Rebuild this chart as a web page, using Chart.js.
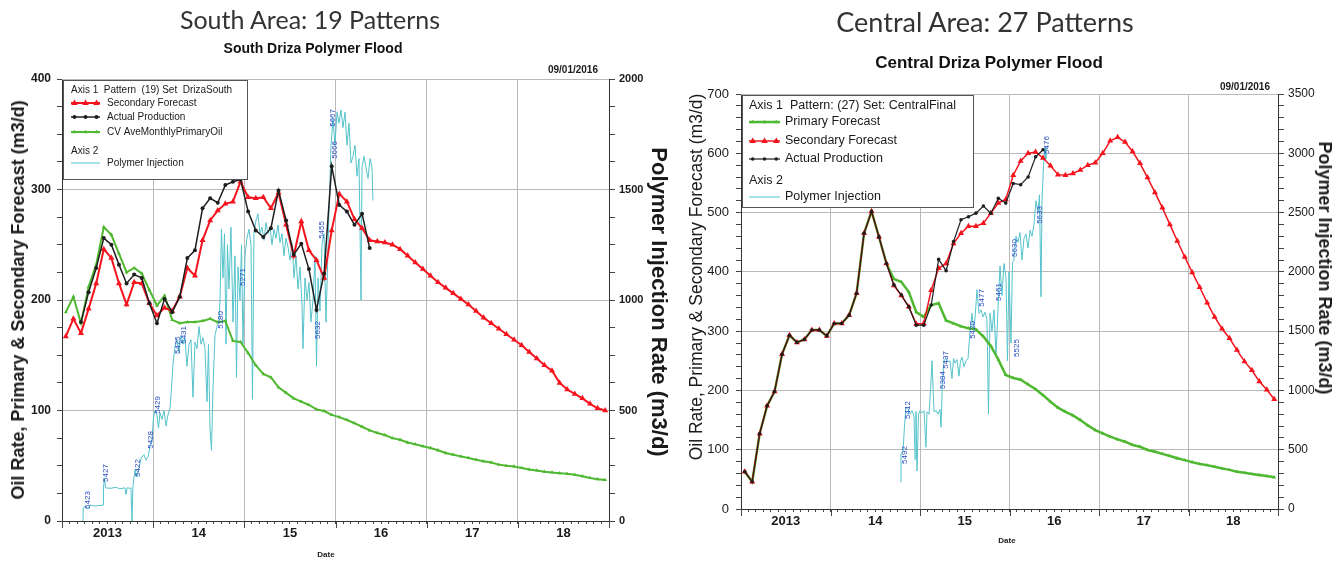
<!DOCTYPE html>
<html>
<head>
<meta charset="utf-8">
<script src="https://cdn.jsdelivr.net/npm/chart.js@4"></script>
<style>
    body { margin: 0; background: #ffffff; }
    #page { position: relative; width: 1342px; height: 561px; overflow: hidden; font-family: "Liberation Sans", Arial, sans-serif; color: #1a1a1a; }
    canvas { position: absolute; top: 0; }
    #south_chart { left: 0; }
    #central_chart { left: 670px; }
    .txt { position: absolute; white-space: nowrap; transform: translate(-50%, -50%); line-height: 1; }
    .slide_title { font-family: Lato, "Open Sans", sans-serif; font-size: 25px; color: #333333; }
    .chart_title { font-weight: bold; color: #111111; }
    .stamp { font-weight: bold; font-size: 10px; transform: translate(-100%, -50%); }
    .rot_left { transform: translate(-50%, -50%) rotate(-90deg); }
    .rot_right { transform: translate(-50%, -50%) rotate(90deg); }
    .date_lbl { font-weight: bold; font-size: 8px; }
</style>
</head>
<body>
<div id="page">
    <canvas id="south_chart" width="670" height="561"></canvas>
    <canvas id="central_chart" width="672" height="561"></canvas>

    <div class="txt slide_title" style="left:310px; top:19px;">South Area: 19 Patterns</div>
    <div class="txt chart_title" style="left:313px; top:48px; font-size:14px;">South Driza Polymer Flood</div>
    <div class="txt stamp" style="left:598px; top:70px;">09/01/2016</div>
    <div class="txt rot_left" style="left:18px; top:300px; font-size:18px; font-weight:bold;">Oil Rate, Primary &amp; Secondary Forecast (m3/d)</div>
    <div class="txt rot_right" style="left:659px; top:302px; font-size:22px; font-weight:bold;">Polymer Injection Rate (m3/d)</div>
    <div class="txt date_lbl" style="left:326px; top:555px;">Date</div>

    <div class="txt slide_title" style="left:985px; top:21px; font-size:27px;">Central Area: 27 Patterns</div>
    <div class="txt chart_title" style="left:989px; top:62px; font-size:17px;">Central Driza Polymer Flood</div>
    <div class="txt stamp" style="left:1270px; top:87px;">09/01/2016</div>
    <div class="txt rot_left" style="left:697px; top:277px; font-size:17.5px;">Oil Rate, Primary &amp; Secondary Forecast (m3/d)</div>
    <div class="txt rot_right" style="left:1325px; top:268px; font-size:18px; font-weight:bold;">Polymer Injection Rate (m3/d)</div>
    <div class="txt date_lbl" style="left:1007px; top:541px;">Date</div>
</div>

<script>
// dates are counted in months from Jan 2013, monthly points sit mid-month
const startYear = 2013;
const yearLabels = ['2013', '14', '15', '16', '17', '18'];

// South area, oil rate (m3/d)
const southSecondary = [167, 183, 170, 192, 215, 246, 238, 215, 196, 216,
    215, 197, 186, 193, 190, 203, 229, 222, 254, 272,
    281, 287, 289, 307, 293, 292, 293, 283, 297, 268,
    240, 271, 245, 236, 220, 263, 296, 289, 273, 265,
    254, 253, 252, 250, 246, 240, 234, 228, 222, 216,
    211, 206, 201, 196, 190, 184, 179, 174, 169, 164,
    159, 153, 147, 141, 136, 125, 119, 115, 111, 106,
    102, 100];
const southActual = [null, null, 180, 207, 229, 256, 250, 232, 215, 223,
    220, 197, 179, 201, 189, 203, 238, 245, 283, 292,
    288, 304, 307, 309, 280, 263, 257, 265, 299, 272,
    241, 251, 228, 191, 224, 321, 286, 280, 268, 278,
    247];
const southPrimary = [189, 203, 179, 212, 232, 266, 259, 242, 225, 229,
    224, 209, 195, 204, 182, 179, 180, 180, 181, 183,
    180, 181, 163, 162, 152, 141, 133, 130, 121, 116,
    111, 108, 105, 101, 99.5, 96, 94, 91.4, 88.5, 85.3,
    82, 79.7, 77.8, 75, 73.5, 71, 69.5, 67.7, 66, 64,
    61.5, 60, 58.5, 57, 55.5, 54, 53, 51, 50, 49.3,
    48, 46.6, 45.7, 44.6, 43.9, 43.3, 42.7, 41.8, 40.5, 38.9,
    37.8, 37.1];

// South area, polymer injection (m3/d)
const southInjMonth = [2.76, 2.80, 3.03, 3.42, 3.69, 4.34, 5.00, 5.40, 5.46, 5.59,
    5.73, 6.32, 7.11, 7.63, 8.29, 8.42, 8.56, 9.08, 9.21, 9.34,
    9.61, 9.87, 10.13, 10.40, 10.79, 11.06, 11.32, 11.58, 11.85, 12.04,
    12.24, 12.50, 12.70, 12.90, 13.16, 13.43, 13.69, 13.95, 14.22, 14.41,
    14.61, 14.87, 15.14, 15.40, 15.66, 15.93, 16.19, 16.45, 16.72, 16.98,
    17.24, 17.51, 17.77, 18.03, 18.30, 18.56, 18.82, 19.09, 19.28, 19.48,
    19.68, 19.87, 20.14, 20.40, 20.66, 20.80, 20.99, 21.19, 21.39, 21.59,
    21.78, 21.98, 22.24, 22.51, 22.77, 22.97, 23.17, 23.43, 23.63, 23.82,
    24.09, 24.35, 24.61, 24.88, 25.07, 25.27, 25.53, 25.80, 26.06, 26.32,
    26.59, 26.85, 27.11, 27.38, 27.64, 27.90, 28.17, 28.43, 28.69, 28.96,
    29.22, 29.48, 29.75, 30.01, 30.27, 30.54, 30.80, 31.06, 31.33, 31.59,
    31.72, 31.98, 32.25, 32.51, 32.77, 33.04, 33.30, 33.50, 33.70, 33.96,
    34.22, 34.49, 34.75, 34.95, 35.14, 35.41, 35.67, 35.93, 36.20, 36.46,
    36.72, 36.99, 37.25, 37.51, 37.78, 38.04, 38.30, 38.57, 38.83, 39.09,
    39.36, 39.49, 39.75, 40.01, 40.28, 40.54, 40.80, 40.93];
const southInjRate = [0, 60, 68, 55, 72, 68, 70, 72, 150, 195,
    150, 148, 152, 146, 150, 120, 150, 148, 0, 160,
    230, 200, 240, 285, 300, 275, 290, 340, 370, 470,
    500, 480, 420, 490, 460, 500, 430, 480, 510, 600,
    710, 790, 820, 760, 840, 800, 830, 700, 800, 820,
    560, 810, 780, 880, 800, 830, 780, 540, 800, 420,
    320, 600, 840, 880, 900, 1000, 1320, 1100, 1300, 800,
    1250, 1050, 1330, 900, 1200, 650, 1150, 1000, 1250, 800,
    1200, 1280, 1320, 1250, 550, 1300, 1360, 1390, 1300, 1330,
    1270, 1350, 1300, 1330, 1250, 1320, 1280, 1340, 1260, 1300,
    1200, 1280, 1240, 1180, 1260, 1100, 1200, 1050, 1150, 980,
    780, 1100, 1000, 1080, 900, 1000, 1200, 700, 1100, 950,
    1250, 1300, 900, 1150, 1400, 1700, 1820, 1700, 1850, 1800,
    1860, 1780, 1850, 1700, 1800, 1620, 1650, 1700, 1560, 1640,
    1000, 1600, 1650, 1600, 1550, 1640, 1600, 1450];

// pattern numbers written along the South injection curve
const southPatternId = ['5423', '5427', '5422', '5428', '5429', '5425', '5431', '5180', '5271', '5632', '5455', '5667', '5666'];
const southPatternMonth = [3.42, 5.79, 10.0, 11.71, 12.64, 15.27, 16.06, 20.93, 23.82, 33.7, 34.22, 35.67, 35.93];
const southPatternRate = [95, 217, 240, 367, 525, 796, 842, 910, 1104, 864, 1317, 1824, 1679];

// Central area, oil rate (m3/d)
const centralPrimary = [63, 46, 127, 174, 198, 261, 293, 281, 286, 302,
    302, 292, 313, 313, 327, 364, 465, 502, 459, 414,
    388, 383, 366, 332, 324, 344, 347, 318, 313, 308,
    305, 303, 291, 275, 252, 226, 221, 218, 210, 202,
    192, 181, 171, 164, 158, 150, 141, 133, 127.5, 122,
    117.5, 113.5, 108, 105, 99.5, 96.5, 93, 89.5, 85.5, 82.5,
    79, 76, 74, 71.3, 68.5, 66, 63, 61, 59, 57.3,
    55.5, 53.5];
const centralSecondary = [63, 46, 127, 174, 198, 261, 293, 281, 286, 302,
    302, 292, 313, 313, 327, 364, 465, 502, 459, 414,
    377, 360, 341, 312, 313, 369, 406, 414, 448, 465,
    477, 477, 482, 499, 516, 522, 563, 587, 600, 602,
    592, 579, 564, 563, 566, 572, 580, 584, 600, 621,
    627, 619, 603, 583, 559, 534, 508, 480, 452, 425,
    399, 374, 348, 324, 304, 288, 268, 249, 234, 215,
    201, 185];
const centralActual = [63, 46, 127, 174, 198, 261, 293, 281, 286, 302,
    302, 292, 313, 313, 327, 364, 465, 502, 459, 414,
    378, 361, 341, 310, 310, 344, 421, 402, 451, 488,
    493, 499, 511, 499, 524, 516, 549, 547, 560, 594,
    606];

// Central area, polymer injection (m3/d)
const centralInjMonth = [21.32, 21.45, 21.72, 21.92, 22.12, 22.39, 22.66, 22.93, 23.20, 23.33,
    23.46, 23.60, 23.80, 24.00, 24.27, 24.54, 24.80, 24.94, 25.21, 25.41,
    25.61, 25.88, 26.15, 26.41, 26.68, 26.82, 27.02, 27.22, 27.49, 27.75,
    28.02, 28.29, 28.49, 28.69, 28.96, 29.23, 29.43, 29.63, 29.90, 30.17,
    30.44, 30.70, 30.97, 31.17, 31.37, 31.64, 31.91, 32.18, 32.45, 32.72,
    32.98, 33.18, 33.39, 33.65, 33.92, 34.19, 34.46, 34.73, 34.99, 35.26,
    35.53, 35.73, 35.93, 36.20, 36.40, 36.60, 36.87, 37.14, 37.41, 37.68,
    37.94, 38.21, 38.48, 38.75, 39.02, 39.28, 39.55, 39.82, 40.02, 40.22,
    40.36, 40.56, 40.76, 40.89];
const centralInjRate = [230, 470, 480, 700, 860, 850, 800, 830, 780, 420,
    820, 320, 800, 830, 810, 830, 520, 820, 800, 1000,
    1250, 820, 830, 800, 840, 690, 1100, 1250, 1270, 1240,
    1250, 1100, 1270, 1230, 1260, 1120, 1250, 1280, 1200, 1250,
    1270, 1500, 1650, 1520, 1600, 1850, 1650, 1680, 1620, 1660,
    1600, 800, 1650, 1500, 1680, 1300, 1690, 2050, 1800, 2070,
    1950, 1250, 2000, 1400, 2080, 2100, 2300, 2250, 2330, 2100,
    2280, 2320, 2200, 2350, 2300, 2400, 2600, 2500, 2650, 1790,
    2600, 2900, 3050, 2950];

const centralPatternId = ['5492', '5412', '5384', '5437', '5420', '5477', '5461', '5630', '5525', '5633', '5476'];
const centralPatternMonth = [21.99, 22.39, 27.08, 27.49, 31.11, 32.31, 34.59, 36.74, 37.0, 40.09, 41.03];
const centralPatternRate = [455, 835, 1088, 1257, 1510, 1780, 1830, 2201, 1358, 2480, 3070];

Chart.defaults.font.family = '"Liberation Sans", Arial, sans-serif';
Chart.defaults.color = '#1a1a1a';

const gridColor = '#b9b9b9';
const noLine = 'rgba(0,0,0,0)';

const monthToYear = m => startYear + m / 12;
const monthly = values => values.map((v, i) => ({ x: monthToYear(i + 0.5), y: v }));
const paired = (months, rates) => months.map((m, i) => ({ x: monthToYear(m), y: rates[i] }));
const steps = (max, step) => {
    const out = [];
    for (let v = 0; v <= max + 0.001; v += step) out.push({ value: v });
    return out;
};

//plot frame and the longer year ticks on the date axis
const frameLines = {
    id: 'frameLines',
    beforeDatasetsDraw(chart) {
        const c = chart.ctx;
        const area = chart.chartArea;
        const xs = chart.scales.x;
        c.save();
        c.strokeStyle = gridColor;
        c.lineWidth = 1;
        c.beginPath();
        c.moveTo(area.left, area.top + 0.5);
        c.lineTo(area.right, area.top + 0.5);
        c.stroke();
        c.strokeStyle = '#444';
        for (let yr = startYear; yr <= startYear + 6; yr++) {
            const px = Math.round(xs.getPixelForValue(yr)) + 0.5;
            c.beginPath();
            c.moveTo(px, area.bottom);
            c.lineTo(px, area.bottom + 7);
            c.stroke();
        }
        c.restore();
    }
};

//blue pattern numbers standing along the injection curve
const patternIds = {
    id: 'patternIds',
    afterDatasetsDraw(chart, args, opts) {
        const c = chart.ctx;
        const xs = chart.scales.x;
        const ys = chart.scales.y2;
        c.save();
        c.font = '8px "Liberation Sans", Arial, sans-serif';
        c.fillStyle = '#2a4cc4';
        c.textAlign = 'center';
        c.textBaseline = 'middle';
        opts.ids.forEach((id, i) => {
            c.save();
            c.translate(xs.getPixelForValue(monthToYear(opts.months[i])), ys.getPixelForValue(opts.rates[i]));
            c.rotate(-Math.PI / 2);
            c.fillText(id, 0, 0);
            c.restore();
        });
        c.restore();
    }
};

const drawMarker = (c, style, x, y, r) => {
    c.beginPath();
    if (style === 'triangle') {
        c.moveTo(x, y - r);
        c.lineTo(x + r * 0.95, y + r * 0.6);
        c.lineTo(x - r * 0.95, y + r * 0.6);
        c.closePath();
    } else {
        c.arc(x, y, r, 0, Math.PI * 2);
    }
    c.fill();
};

//boxed legend in the upper left corner of the plot
const legendBox = {
    id: 'legendBox',
    afterDatasetsDraw(chart, args, opts) {
        const c = chart.ctx;
        const [bx, by, bw, bh] = opts.box;
        c.save();
        c.fillStyle = '#ffffff';
        c.fillRect(bx, by, bw, bh);
        c.strokeStyle = '#555';
        c.lineWidth = 1;
        c.strokeRect(bx + 0.5, by + 0.5, bw, bh);
        c.font = opts.font;
        c.textBaseline = 'middle';
        opts.rows.forEach(row => {
            if (row.dataset !== undefined) {
                const ds = chart.data.datasets[row.dataset];
                c.strokeStyle = ds.borderColor;
                c.fillStyle = ds.borderColor;
                c.lineWidth = ds.borderWidth;
                c.beginPath();
                c.moveTo(opts.sample[0], row.y);
                c.lineTo(opts.sample[1], row.y);
                c.stroke();
                if (ds.pointRadius) {
                    [0.12, 0.5, 0.88].forEach(f => {
                        drawMarker(c, ds.pointStyle, opts.sample[0] + f * (opts.sample[1] - opts.sample[0]), row.y, ds.pointRadius);
                    });
                }
            }
            c.fillStyle = '#1a1a1a';
            c.fillText(row.text, row.x, row.y);
        });
        c.restore();
    }
};

function buildChart(canvasId, cfg) {
    const tickFont = (size, weight) => ({ size: size, weight: weight });

    new Chart(document.getElementById(canvasId), {
        type: 'line',
        data: {
            datasets: [
                {
                    label: 'Actual Production',
                    data: monthly(cfg.actual),
                    borderColor: '#1e1e1e',
                    backgroundColor: '#1e1e1e',
                    borderWidth: cfg.blackWidth,
                    pointStyle: 'circle',
                    pointRadius: cfg.blackDot,
                    pointBorderWidth: 0,
                    order: 1
                },
                {
                    label: 'Secondary Forecast',
                    data: monthly(cfg.secondary),
                    borderColor: '#f5141e',
                    backgroundColor: '#f5141e',
                    borderWidth: cfg.redWidth,
                    pointStyle: 'triangle',
                    pointRadius: cfg.redDot,
                    pointBorderWidth: 0,
                    order: 2
                },
                {
                    label: cfg.primaryName,
                    data: monthly(cfg.primary),
                    borderColor: '#4fb830',
                    backgroundColor: '#4fb830',
                    borderWidth: cfg.greenWidth,
                    pointStyle: 'triangle',
                    pointRadius: cfg.greenDot,
                    pointBorderWidth: 0,
                    order: 3
                },
                {
                    label: 'Polymer Injection',
                    data: paired(cfg.injMonth, cfg.injRate),
                    yAxisID: 'y2',
                    borderColor: '#55c3cc',
                    borderWidth: 1,
                    pointRadius: 0,
                    order: 4
                }
            ]
        },
        options: {
            responsive: false,
            animation: false,
            devicePixelRatio: 1,
            layout: { padding: { top: cfg.top, left: 0, right: 0, bottom: 0 } },
            plugins: {
                legend: { display: false },
                tooltip: { enabled: false },
                patternIds: { ids: cfg.patternId, months: cfg.patternMonth, rates: cfg.patternRate },
                legendBox: cfg.legend
            },
            scales: {
                x: {
                    type: 'linear',
                    min: startYear,
                    max: startYear + 6,
                    afterBuildTicks: s => { s.ticks = steps(6, 1 / 12).map(t => ({ value: startYear + t.value })); },
                    afterFit: s => { s.height = cfg.xHeight; },
                    ticks: {
                        autoSkip: false,
                        maxRotation: 0,
                        padding: 2,
                        font: tickFont(13, 'bold'),
                        color: '#1a1a1a',
                        callback: (v, i) => (i % 12 === 6 ? yearLabels[(i - 6) / 12] : '')
                    },
                    grid: {
                        color: c => (c.index % 12 === 0 ? gridColor : noLine),
                        tickColor: '#444',
                        tickLength: 3
                    },
                    border: { color: '#333' }
                },
                y: {
                    position: 'left',
                    min: 0,
                    max: cfg.yMax,
                    afterBuildTicks: s => { s.ticks = steps(cfg.yMax, cfg.yMinor); },
                    afterFit: s => { s.width = cfg.yWidth; },
                    ticks: {
                        autoSkip: false,
                        padding: cfg.yPad,
                        font: tickFont(cfg.yFontSize, cfg.yWeight),
                        color: '#1a1a1a',
                        callback: v => (Math.round(v) % cfg.yMajor === 0 ? v : '')
                    },
                    grid: {
                        color: c => (c.tick && Math.round(c.tick.value) % cfg.yMajor === 0 ? gridColor : noLine),
                        tickColor: '#444',
                        tickLength: 5
                    },
                    border: { color: '#333' }
                },
                y2: {
                    position: 'right',
                    min: 0,
                    max: cfg.y2Max,
                    afterBuildTicks: s => { s.ticks = steps(cfg.y2Max, cfg.y2Minor); },
                    afterFit: s => { s.width = cfg.y2Width; },
                    ticks: {
                        autoSkip: false,
                        padding: cfg.y2Pad,
                        font: tickFont(cfg.y2FontSize, cfg.yWeight),
                        color: '#1a1a1a',
                        callback: v => (Math.round(v) % cfg.y2Major === 0 ? v : '')
                    },
                    grid: {
                        drawOnChartArea: false,
                        tickColor: '#444',
                        tickLength: 6
                    },
                    border: { color: '#333' }
                }
            }
        },
        plugins: [frameLines, patternIds, legendBox]
    });
}

buildChart('south_chart', {
    actual: southActual,
    secondary: southSecondary,
    primary: southPrimary,
    primaryName: 'CV AveMonthlyPrimaryOil',
    injMonth: southInjMonth,
    injRate: southInjRate,
    patternId: southPatternId,
    patternMonth: southPatternMonth,
    patternRate: southPatternRate,
    top: 79, xHeight: 40, yWidth: 62, y2Width: 61,
    yMax: 400, yMinor: 25, yMajor: 100, yPad: 6, yFontSize: 12, yWeight: 'bold',
    y2Max: 2000, y2Minor: 125, y2Major: 500, y2Pad: 4, y2FontSize: 11,
    blackWidth: 1.5, blackDot: 2, redWidth: 2, redDot: 3.5, greenWidth: 2, greenDot: 2.2,
    legend: {
        box: [63, 80, 184, 99],
        font: '10px "Liberation Sans", Arial, sans-serif',
        sample: [71, 100],
        rows: [
            { text: 'Axis 1  Pattern  (19) Set  DrizaSouth', x: 71, y: 90 },
            { text: 'Secondary Forecast', x: 107, y: 103, dataset: 1 },
            { text: 'Actual Production', x: 107, y: 117, dataset: 0 },
            { text: 'CV AveMonthlyPrimaryOil', x: 107, y: 132, dataset: 2 },
            { text: 'Axis 2', x: 71, y: 151 },
            { text: 'Polymer Injection', x: 107, y: 163, dataset: 3 }
        ]
    }
});

buildChart('central_chart', {
    actual: centralActual,
    secondary: centralSecondary,
    primary: centralPrimary,
    primaryName: 'Primary Forecast',
    injMonth: centralInjMonth,
    injRate: centralInjRate,
    patternId: centralPatternId,
    patternMonth: centralPatternMonth,
    patternRate: centralPatternRate,
    top: 94, xHeight: 52, yWidth: 71, y2Width: 64,
    yMax: 700, yMinor: 20, yMajor: 100, yPad: 7, yFontSize: 13, yWeight: 'normal',
    y2Max: 3500, y2Minor: 100, y2Major: 500, y2Pad: 4, y2FontSize: 12,
    blackWidth: 1.2, blackDot: 1.8, redWidth: 1.5, redDot: 3.5, greenWidth: 2.5, greenDot: 2.2,
    legend: {
        box: [72, 95, 231, 112],
        font: '12.5px "Liberation Sans", Arial, sans-serif',
        sample: [79, 110],
        rows: [
            { text: 'Axis 1  Pattern: (27) Set: CentralFinal', x: 79, y: 106 },
            { text: 'Primary Forecast', x: 115, y: 122, dataset: 2 },
            { text: 'Secondary Forecast', x: 115, y: 141, dataset: 1 },
            { text: 'Actual Production', x: 115, y: 159, dataset: 0 },
            { text: 'Axis 2', x: 79, y: 181 },
            { text: 'Polymer Injection', x: 115, y: 197, dataset: 3 }
        ]
    }
});
</script>
</body>
</html>
